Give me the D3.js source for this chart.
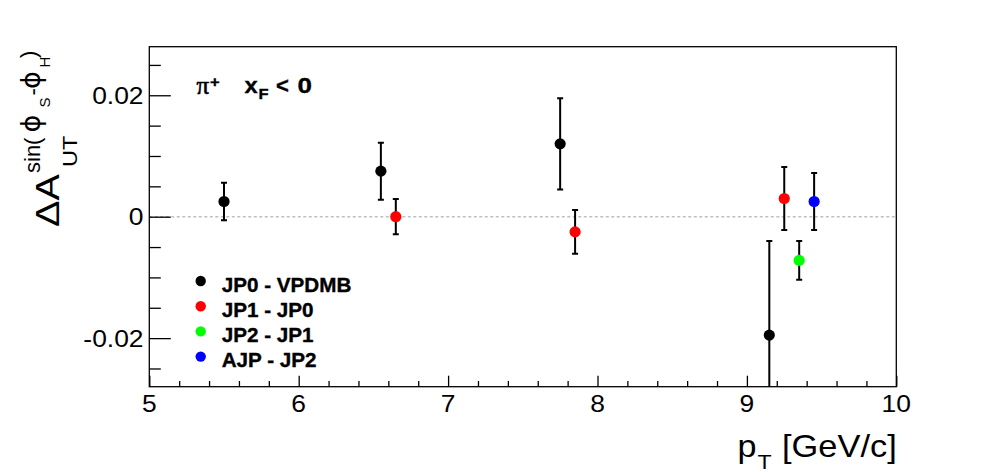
<!DOCTYPE html>
<html><head><meta charset="utf-8">
<script src="https://cdn.jsdelivr.net/npm/d3@7"></script>
<style>body{margin:0;background:#fff;} svg{display:block;}</style>
</head><body><svg id="c" width="996" height="472"></svg>
<script>
// ---- data ----
const xDomain = [5, 10];
const yDomain = [-0.028, 0.028];
const xTickValues = [5, 6, 7, 8, 9, 10];
const xTickLabels = ["5", "6", "7", "8", "9", "10"];
const yTickValues = [-0.02, 0, 0.02];
const yTickLabels = ["-0.02", "0", "0.02"];
const seriesNames = ["JP0 - VPDMB", "JP1 - JP0", "JP2 - JP1", "AJP - JP2"];
const seriesColors = ["#000000", "#ff0000", "#00ff00", "#0000ff"];
const jp0_x = [5.5, 6.55, 7.75, 9.15];
const jp0_y = [0.0025, 0.0075, 0.0120, -0.0195];
const jp0_err = [0.0031, 0.0047, 0.0075, 0.0155];
const jp1_x = [6.65, 7.85, 9.25];
const jp1_y = [0.0000, -0.0025, 0.0030];
const jp1_err = [0.0029, 0.0036, 0.0052];
const jp2_x = [9.35];
const jp2_y = [-0.0072];
const jp2_err = [0.0032];
const ajp_x = [9.45];
const ajp_y = [0.0025];
const ajp_err = [0.0047];

const series = [
  {x: jp0_x, y: jp0_y, e: jp0_err},
  {x: jp1_x, y: jp1_y, e: jp1_err},
  {x: jp2_x, y: jp2_y, e: jp2_err},
  {x: ajp_x, y: ajp_y, e: ajp_err}
].map((s, i) => ({name: seriesNames[i], color: seriesColors[i],
  pts: s.x.map((v, j) => ({x: v, y: s.y[j], e: s.e[j]}))}));

// ---- layout ----
const L = 149.3, R = 896.3, T = 46.7, B = 386.7;
const svg = d3.select("#c");
const x = d3.scaleLinear().domain(xDomain).range([L, R]);
const y = d3.scaleLinear().domain(yDomain).range([B, T]);
const FONT = "'Liberation Sans', Arial, Helvetica, sans-serif";

function st(parent, px, py, str, size, weight, anchor, sx, rot) {
  const t = parent.append("text")
    .attr("transform", `translate(${px},${py})${rot ? " rotate(" + rot + ")" : ""} scale(${sx},1)`)
    .attr("font-family", FONT).attr("font-size", size)
    .attr("font-weight", weight).attr("text-anchor", anchor)
    .attr("fill", "#000").text(str);
  if (weight === "bold") t.attr("stroke", "#000").attr("stroke-width", 0.35);
  return t;
}

svg.append("defs").append("clipPath").attr("id", "clip")
  .append("rect").attr("x", L).attr("y", T).attr("width", R - L).attr("height", B - T);

// zero line
svg.append("line").attr("x1", L).attr("x2", R).attr("y1", y(0)).attr("y2", y(0))
  .attr("stroke", "#c0c0c0").attr("stroke-width", 1.4).attr("stroke-dasharray", "3,2.5");

// axes (ticks inward)
const xMinor = d3.range(5, 10.001, 0.2).filter(v => Math.abs(v - Math.round(v)) > 1e-6);
const yMinor = d3.range(-0.025, 0.02501, 0.005).filter(v => Math.abs(v / 0.02 - Math.round(v / 0.02)) > 1e-6);

function styleAxis(g) {
  g.select(".domain").remove();
  g.selectAll("line").attr("stroke", "#000").attr("stroke-width", 1.3);
}
svg.append("g").attr("transform", `translate(0,${B})`)
  .call(d3.axisBottom(x).tickValues(xTickValues).tickSize(-11).tickFormat("")).call(styleAxis);
svg.append("g").attr("transform", `translate(0,${B})`)
  .call(d3.axisBottom(x).tickValues(xMinor).tickSize(-5.7).tickFormat("")).call(styleAxis);
svg.append("g").attr("transform", `translate(${L},0)`)
  .call(d3.axisLeft(y).tickValues(yTickValues).tickSize(-21.5).tickFormat("")).call(styleAxis);
svg.append("g").attr("transform", `translate(${L},0)`)
  .call(d3.axisLeft(y).tickValues(yMinor).tickSize(-11.5).tickFormat("")).call(styleAxis);

// frame
svg.append("rect").attr("x", L).attr("y", T).attr("width", R - L).attr("height", B - T)
  .attr("fill", "none").attr("stroke", "#000").attr("stroke-width", 1.3);

// tick labels
xTickValues.forEach((v, i) => st(svg, x(v), 411.7, xTickLabels[i], 24, "normal", "middle", 1.1));
yTickValues.forEach((v, i) => st(svg, 143.5, y(v) + 8.5, yTickLabels[i], 24, "normal", "end", 1.1));

// x title
st(svg, 737.5, 457, "p", 31, "normal", "start", 1.1);
st(svg, 757.5, 468.5, "T", 21, "normal", "start", 1.1);
st(svg, 896.7, 457, "[GeV/c]", 31, "normal", "end", 1.11);

// y title (rotated)
st(svg, 59.3, 227, "ΔA", 33, "normal", "start", 1.2, -90);
st(svg, 76.7, 167, "UT", 21, "normal", "start", 1.12, -90);
const yt = svg.append("g").attr("transform", "translate(59.3,227) rotate(-90)");
const ytx = yt.append("text").attr("font-family", FONT).attr("fill", "#000");
ytx.append("tspan").attr("x", 54).attr("y", -19.3).attr("font-size", 22).text("sin(");
ytx.append("tspan").attr("x", 94.5).attr("y", -19.3).attr("font-size", 27).attr("font-family", "'DejaVu Sans', sans-serif").text("ϕ");
ytx.append("tspan").attr("x", 119.5).attr("y", -9.3).attr("font-size", 15).text("S");
ytx.append("tspan").attr("x", 131.5).attr("y", -19.3).attr("font-size", 22).text("-");
ytx.append("tspan").attr("x", 138).attr("y", -19.3).attr("font-size", 27).attr("font-family", "'DejaVu Sans', sans-serif").text("ϕ");
ytx.append("tspan").attr("x", 159.5).attr("y", -9.3).attr("font-size", 15).text("H");
ytx.append("tspan").attr("x", 169).attr("y", -23).attr("font-size", 22).text(")");

// label π+ xF < 0
svg.append("text").attr("x", 196.5).attr("y", 94).attr("font-family", "'Liberation Serif', 'Times New Roman', serif")
  .attr("font-size", 25).attr("stroke", "#000").attr("stroke-width", 0.6).text("π");
st(svg, 210, 86.5, "+", 15, "bold", "start", 1.1);
st(svg, 244.5, 93, "x", 22, "bold", "start", 1.08);
st(svg, 258.5, 98.5, "F", 15, "bold", "start", 1.1);
st(svg, 276, 93, "<", 22, "bold", "start", 1.0);
st(svg, 297.5, 93, "0", 22, "bold", "start", 1.18);

// data
const plot = svg.append("g").attr("clip-path", "url(#clip)");
series.forEach(s => {
  const g = plot.append("g");
  s.pts.forEach(p => {
    const cx = x(p.x);
    g.append("line").attr("x1", cx).attr("x2", cx).attr("y1", y(p.y + p.e)).attr("y2", y(p.y - p.e))
      .attr("stroke", "#000").attr("stroke-width", 2);
    [p.y + p.e, p.y - p.e].forEach(v => {
      if (v > yDomain[0] && v < yDomain[1])
        g.append("line").attr("x1", cx - 3).attr("x2", cx + 3).attr("y1", y(v)).attr("y2", y(v))
          .attr("stroke", "#000").attr("stroke-width", 2);
    });
    g.append("circle").attr("cx", cx).attr("cy", y(p.y)).attr("r", 5.6).attr("fill", s.color);
  });
});

// legend
series.forEach((s, i) => {
  const ly = 281 + i * 25.2;
  svg.append("circle").attr("cx", 200.7).attr("cy", ly).attr("r", 5.2).attr("fill", s.color);
  st(svg, 221.7, ly + 10.5, s.name, 19.5, "bold", "start", 1.06);
});
</script></body></html>
